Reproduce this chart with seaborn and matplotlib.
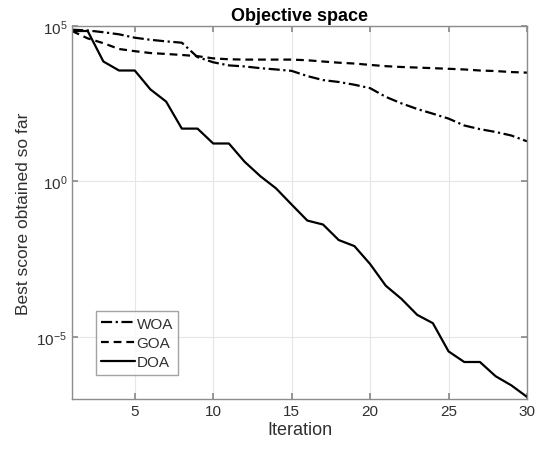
import matplotlib
matplotlib.use("Agg")
import matplotlib.pyplot as plt
import seaborn as sns
import pandas as pd
from matplotlib.ticker import FixedLocator, NullLocator, LogFormatterMathtext

# Convergence curves: best score per iteration for three optimizers
iterations = list(range(1, 31))

woa = [7.6e4, 7.2e4, 6.3e4, 5.4e4, 4.2e4, 3.6e4, 3.2e4, 2.9e4, 1.0e4, 6.8e3,
       5.4e3, 5.0e3, 4.4e3, 4.0e3, 3.6e3, 2.45e3, 1.82e3, 1.58e3, 1.29e3, 1.0e3,
       525, 324, 214, 151, 105, 63, 48, 39, 30, 19.5]

goa = [6.9e4, 4.0e4, 2.8e4, 1.82e4, 1.55e4, 1.35e4, 1.26e4, 1.17e4, 1.07e4, 9.1e3,
       8.5e3, 8.3e3, 8.3e3, 8.3e3, 8.3e3, 7.9e3, 7.2e3, 6.6e3, 6.2e3, 5.6e3,
       5.1e3, 4.8e3, 4.6e3, 4.4e3, 4.2e3, 4.0e3, 3.7e3, 3.55e3, 3.3e3, 3.16e3]

doa = [6.9e4, 6.9e4, 7.2e3, 3.7e3, 3.7e3, 9.1e2, 3.7e2, 50, 50, 16.6,
       16.6, 4.3, 1.48, 0.60, 0.18, 0.055, 0.041, 0.013, 8.3e-3, 2.2e-3,
       4.4e-4, 1.66e-4, 5.1e-5, 2.75e-5, 3.4e-6, 1.55e-6, 1.55e-6, 5.4e-7, 2.75e-7, 1.17e-7]

series_names = ["WOA", "GOA", "DOA"]
x_ticks = [5, 10, 15, 20, 25, 30]
y_ticks = [1e-5, 1e0, 1e5]

sns.set_theme(style="white")
plt.rcParams["font.family"] = ["Liberation Sans", "DejaVu Sans"]
plt.rcParams["mathtext.fontset"] = "custom"
plt.rcParams["mathtext.rm"] = "Liberation Sans"

fig = plt.figure(figsize=(5.36, 4.52), dpi=100)
ax = fig.add_axes([72 / 536, 1 - 400 / 452, (527 - 72) / 536, (400 - 27) / 452])

frames = []
for name, vals in zip(series_names, [woa, goa, doa]):
    frames.append(pd.DataFrame({"Iteration": iterations, "score": vals, "alg": name}))
df = pd.concat(frames, ignore_index=True)

styles = {"WOA": (0, (5, 1.6, 1, 1.6)), "GOA": (0, (3.5, 2.2)), "DOA": "-"}
for name in series_names:
    sns.lineplot(data=df[df["alg"] == name], x="Iteration", y="score", ax=ax,
                 color="black", linewidth=1.6, linestyle=styles[name], label=name)

ax.set_yscale("log")
ax.set_xlim(1, 30)
ax.set_ylim(1e-7, 1e5)
ax.xaxis.set_major_locator(FixedLocator(x_ticks))
ax.yaxis.set_major_locator(FixedLocator(y_ticks))
ax.yaxis.set_minor_locator(NullLocator())
ax.yaxis.set_major_formatter(LogFormatterMathtext())

ax.grid(True, color="#e6e6e6", linewidth=0.8)
ax.set_axisbelow(True)
for sp in ax.spines.values():
    sp.set_color("#8c8c8c")
    sp.set_linewidth(1.0)
ax.tick_params(axis="both", direction="in", length=4, color="#8c8c8c",
               labelcolor="#303030", labelsize=11, top=True, right=True,
               bottom=True, left=True, labeltop=False, labelright=False)

ax.set_xlabel("Iteration", fontsize=13, color="#303030", labelpad=2)
ax.set_ylabel("Best score obtained so far", fontsize=12.5, color="#303030", labelpad=4)
ax.set_title("Objective space", fontsize=13, fontweight="bold", color="black", pad=4)

leg = ax.legend(loc="lower left", bbox_to_anchor=(0.053, 0.065), fontsize=11,
                frameon=True, fancybox=False, handlelength=2.2, handletextpad=0.1,
                borderpad=0.35, labelspacing=0.35, borderaxespad=0)
leg.get_frame().set_edgecolor("#8c8c8c")
leg.get_frame().set_linewidth(1.0)
for t in leg.get_texts():
    t.set_color("#303030")

fig.savefig("out.png", dpi=100, facecolor="white")
